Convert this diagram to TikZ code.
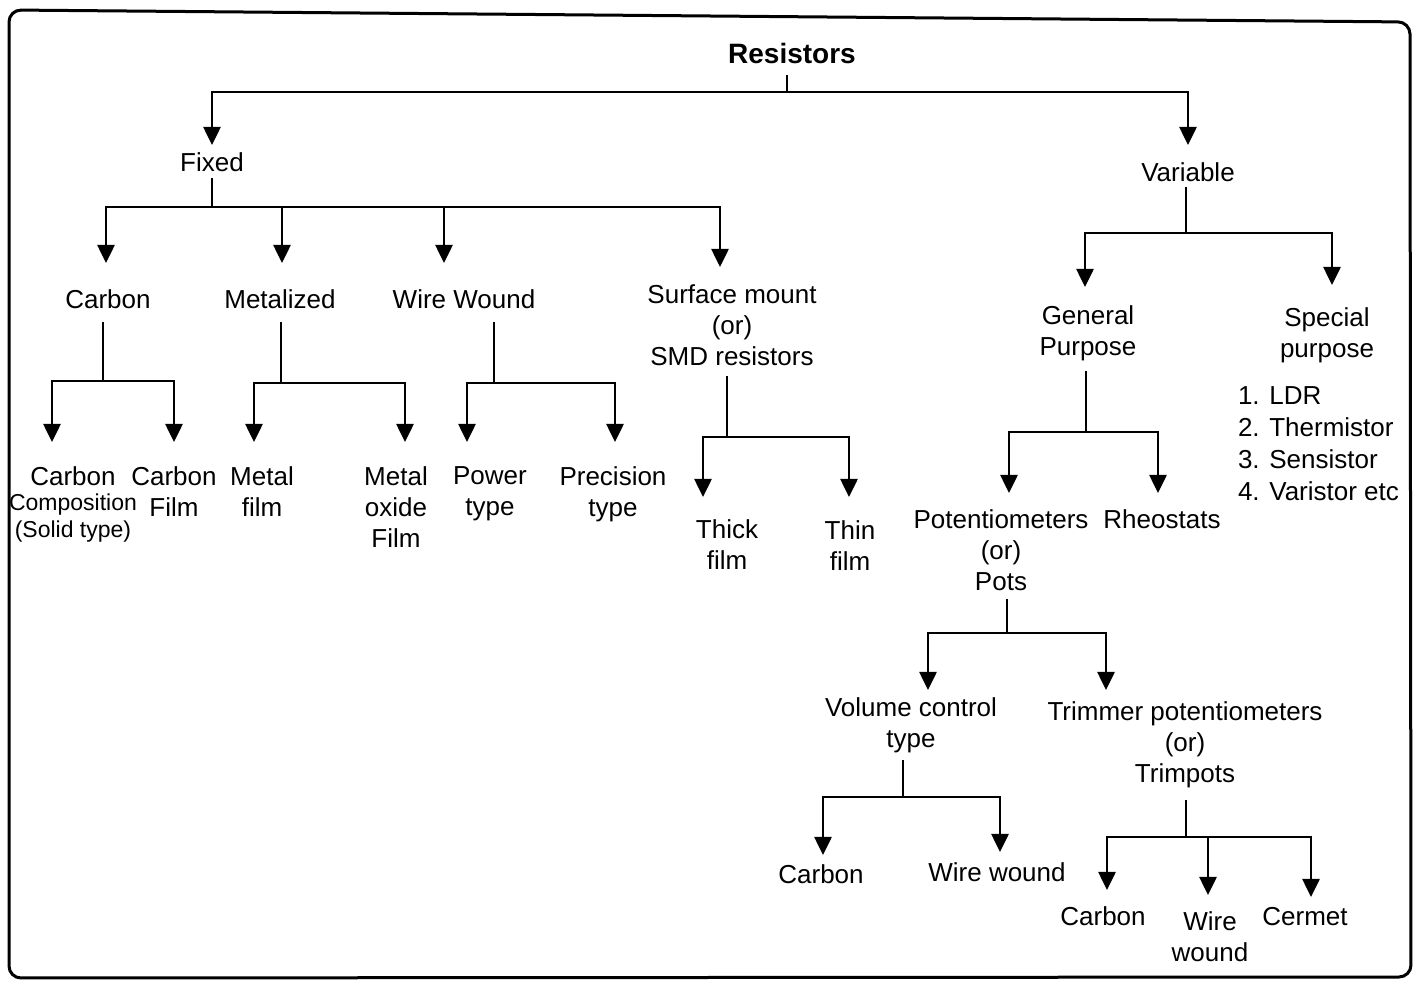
\documentclass[tikz,border=0pt]{standalone}
\usepackage{fontspec}
\setmainfont{Liberation Sans}
\usetikzlibrary{arrows.meta}
\newcommand\smfnt{\fontsize{11.5}{12.5}\selectfont}
\begin{document}
\begin{tikzpicture}[x=0.5pt,y=-0.5pt,
 ln/.style={line width=1.3pt},
 arr/.style={line width=1.3pt,-{Triangle[width=8.5pt,length=9pt]}},
 lbl/.style={font=\fontsize{13}{15.5}\selectfont, align=center, inner sep=0pt, outer sep=0pt, anchor=north},
]
\useasboundingbox (0,0) rectangle (1421,983);
\draw[line width=1.5pt, rounded corners=6pt] (9,10) -- (1410,22) -- (1411,977) -- (9,978) -- cycle;

% nodes
\node[lbl, anchor=center, font=\bfseries\fontsize{14}{16}\selectfont] (res) at (792,53) {Resistors};
\node[lbl] (fixed) at (212,153) {Fixed};
\node[lbl] (variable) at (1188,163) {Variable};
\node[lbl] (carbon) at (108,290) {Carbon};
\node[lbl] (metal) at (280,290) {Metalized};
\node[lbl] (wire) at (464,290) {Wire Wound};
\node[lbl] (smd) at (732,285) {Surface mount\\(or)\\SMD resistors};
\node[lbl] (gp) at (1088,306) {General\\Purpose};
\node[lbl] (sp) at (1327,308) {Special\\purpose};
\node[lbl, anchor=north west, align=left] (list) at (1238,387) {1. LDR\\[0.5pt]2. Thermistor\\[0.5pt]3. Sensistor\\[0.5pt]4. Varistor etc};
\node[lbl] (cc) at (73,467) {Carbon\\[-3pt]\smfnt Composition\\[-2pt]\smfnt (Solid type)};
\node[lbl] (cf) at (174,467) {Carbon\\Film};
\node[lbl] (mf) at (262,467) {Metal\\film};
\node[lbl] (mo) at (396,467) {Metal\\oxide\\Film};
\node[lbl] (pw) at (490,467) {Power\\type};
\node[lbl] (pr) at (613,467) {Precision\\type};
\node[lbl] (thick) at (727,520) {Thick\\film};
\node[lbl] (thin) at (850,521) {Thin\\film};
\node[lbl] (pots) at (1001,510) {Potentiometers\\(or)\\Pots};
\node[lbl] (rheo) at (1162,510) {Rheostats};
\node[lbl] (vol) at (911,698) {Volume control\\type};
\node[lbl] (trim) at (1185,702) {Trimmer potentiometers\\(or)\\Trimpots};
\node[lbl] (c2) at (821,865) {Carbon};
\node[lbl] (ww2) at (997,863) {Wire wound};
\node[lbl] (c3) at (1103,907) {Carbon};
\node[lbl] (ww3) at (1210,912) {Wire\\wound};
\node[lbl] (cermet) at (1305,907) {Cermet};

% bar points
\coordinate (rb) at (787,92);
\coordinate (fb) at (212,207);
\coordinate (vb) at (1186,233);
\coordinate (cb) at (103,381);
\coordinate (mb) at (281,383);
\coordinate (wb) at (494,383);
\coordinate (sb) at (727,437);
\coordinate (gb) at (1086,432);
\coordinate (pb) at (1007,633);
\coordinate (ob) at (903,797);
\coordinate (tb) at (1186,837);

% Resistors
\draw[ln, shorten <=6pt] (res.south -| rb) -- (rb);
\draw[arr, shorten >=4pt] (rb) -| (fixed.north);
\draw[arr, shorten >=9pt] (rb) -| (variable.north);
% Fixed
\draw[ln, shorten <=3pt] (fixed.south -| fb) -- (fb);
\draw[arr, shorten >=13.5pt] (fb) -| ([xshift=-1pt]carbon.north);
\draw[arr, shorten >=13.5pt] (fb) -| ([xshift=1pt]metal.north);
\draw[arr, shorten >=13.5pt] (fb) -| ([xshift=-10pt]wire.north);
\draw[arr, shorten >=9pt] (fb) -| ([xshift=-6pt]smd.north);
% Variable
\draw[ln, shorten <=2.5pt] (variable.south -| vb) -- (vb);
\draw[arr, shorten >=9.5pt] (vb) -| ([xshift=-1.5pt]gp.north);
\draw[arr, shorten >=11.5pt] (vb) -| ([xshift=2.5pt]sp.north);
% Carbon
\draw[ln, shorten <=6.5pt] (carbon.south -| cb) -- (cb);
\draw[arr, shorten >=12.5pt] (cb) -| ([xshift=-10.5pt]cc.north);
\draw[arr, shorten >=12.5pt] (cb) -| (cf.north);
% Metalized
\draw[ln, shorten <=6.5pt] (metal.south -| mb) -- (mb);
\draw[arr, shorten >=12.5pt] (mb) -| ([xshift=-4pt]mf.north);
\draw[arr, shorten >=12.5pt] (mb) -| ([xshift=4.5pt]mo.north);
% Wire Wound
\draw[ln, shorten <=6.5pt] (wire.south -| wb) -- (wb);
\draw[arr, shorten >=12.5pt] (wb) -| ([xshift=-11.5pt]pw.north);
\draw[arr, shorten >=12.5pt] (wb) -| ([xshift=1pt]pr.north);
% SMD
\draw[ln, shorten <=5pt] (smd.south -| sb) -- (sb);
\draw[arr, shorten >=11.5pt] (sb) -| ([xshift=-12pt]thick.north);
\draw[arr, shorten >=12pt] (sb) -| ([xshift=-0.5pt]thin.north);
% General purpose
\draw[ln, shorten <=5pt] (gp.south -| gb) -- (gb);
\draw[arr, shorten >=8.5pt] (gb) -| ([xshift=4pt]pots.north);
\draw[arr, shorten >=8.5pt] (gb) -| ([xshift=-2pt]rheo.north);
% Pots
\draw[ln, shorten <=4pt] (pots.south -| pb) -- (pb);
\draw[arr, shorten >=4pt] (pb) -| ([xshift=8.5pt]vol.north);
\draw[arr, shorten >=6pt] (pb) -| ([xshift=-39.5pt]trim.north);
% Volume control
\draw[ln, shorten <=3.5pt] (vol.south -| ob) -- (ob);
\draw[arr, shorten >=5pt] (ob) -| ([xshift=1pt]c2.north);
\draw[arr, shorten >=5.5pt] (ob) -| ([xshift=1.5pt]ww2.north);
% Trimpots
\draw[ln, shorten <=6pt] (trim.south -| tb) -- (tb);
\draw[arr, shorten >=8.5pt] (tb) -| ([xshift=2pt]c3.north);
\draw[arr, shorten >=8.5pt] (tb) -| ([xshift=-1pt]ww3.north);
\draw[arr, shorten >=5pt] (tb) -| ([xshift=3pt]cermet.north);
\end{tikzpicture}
\end{document}
